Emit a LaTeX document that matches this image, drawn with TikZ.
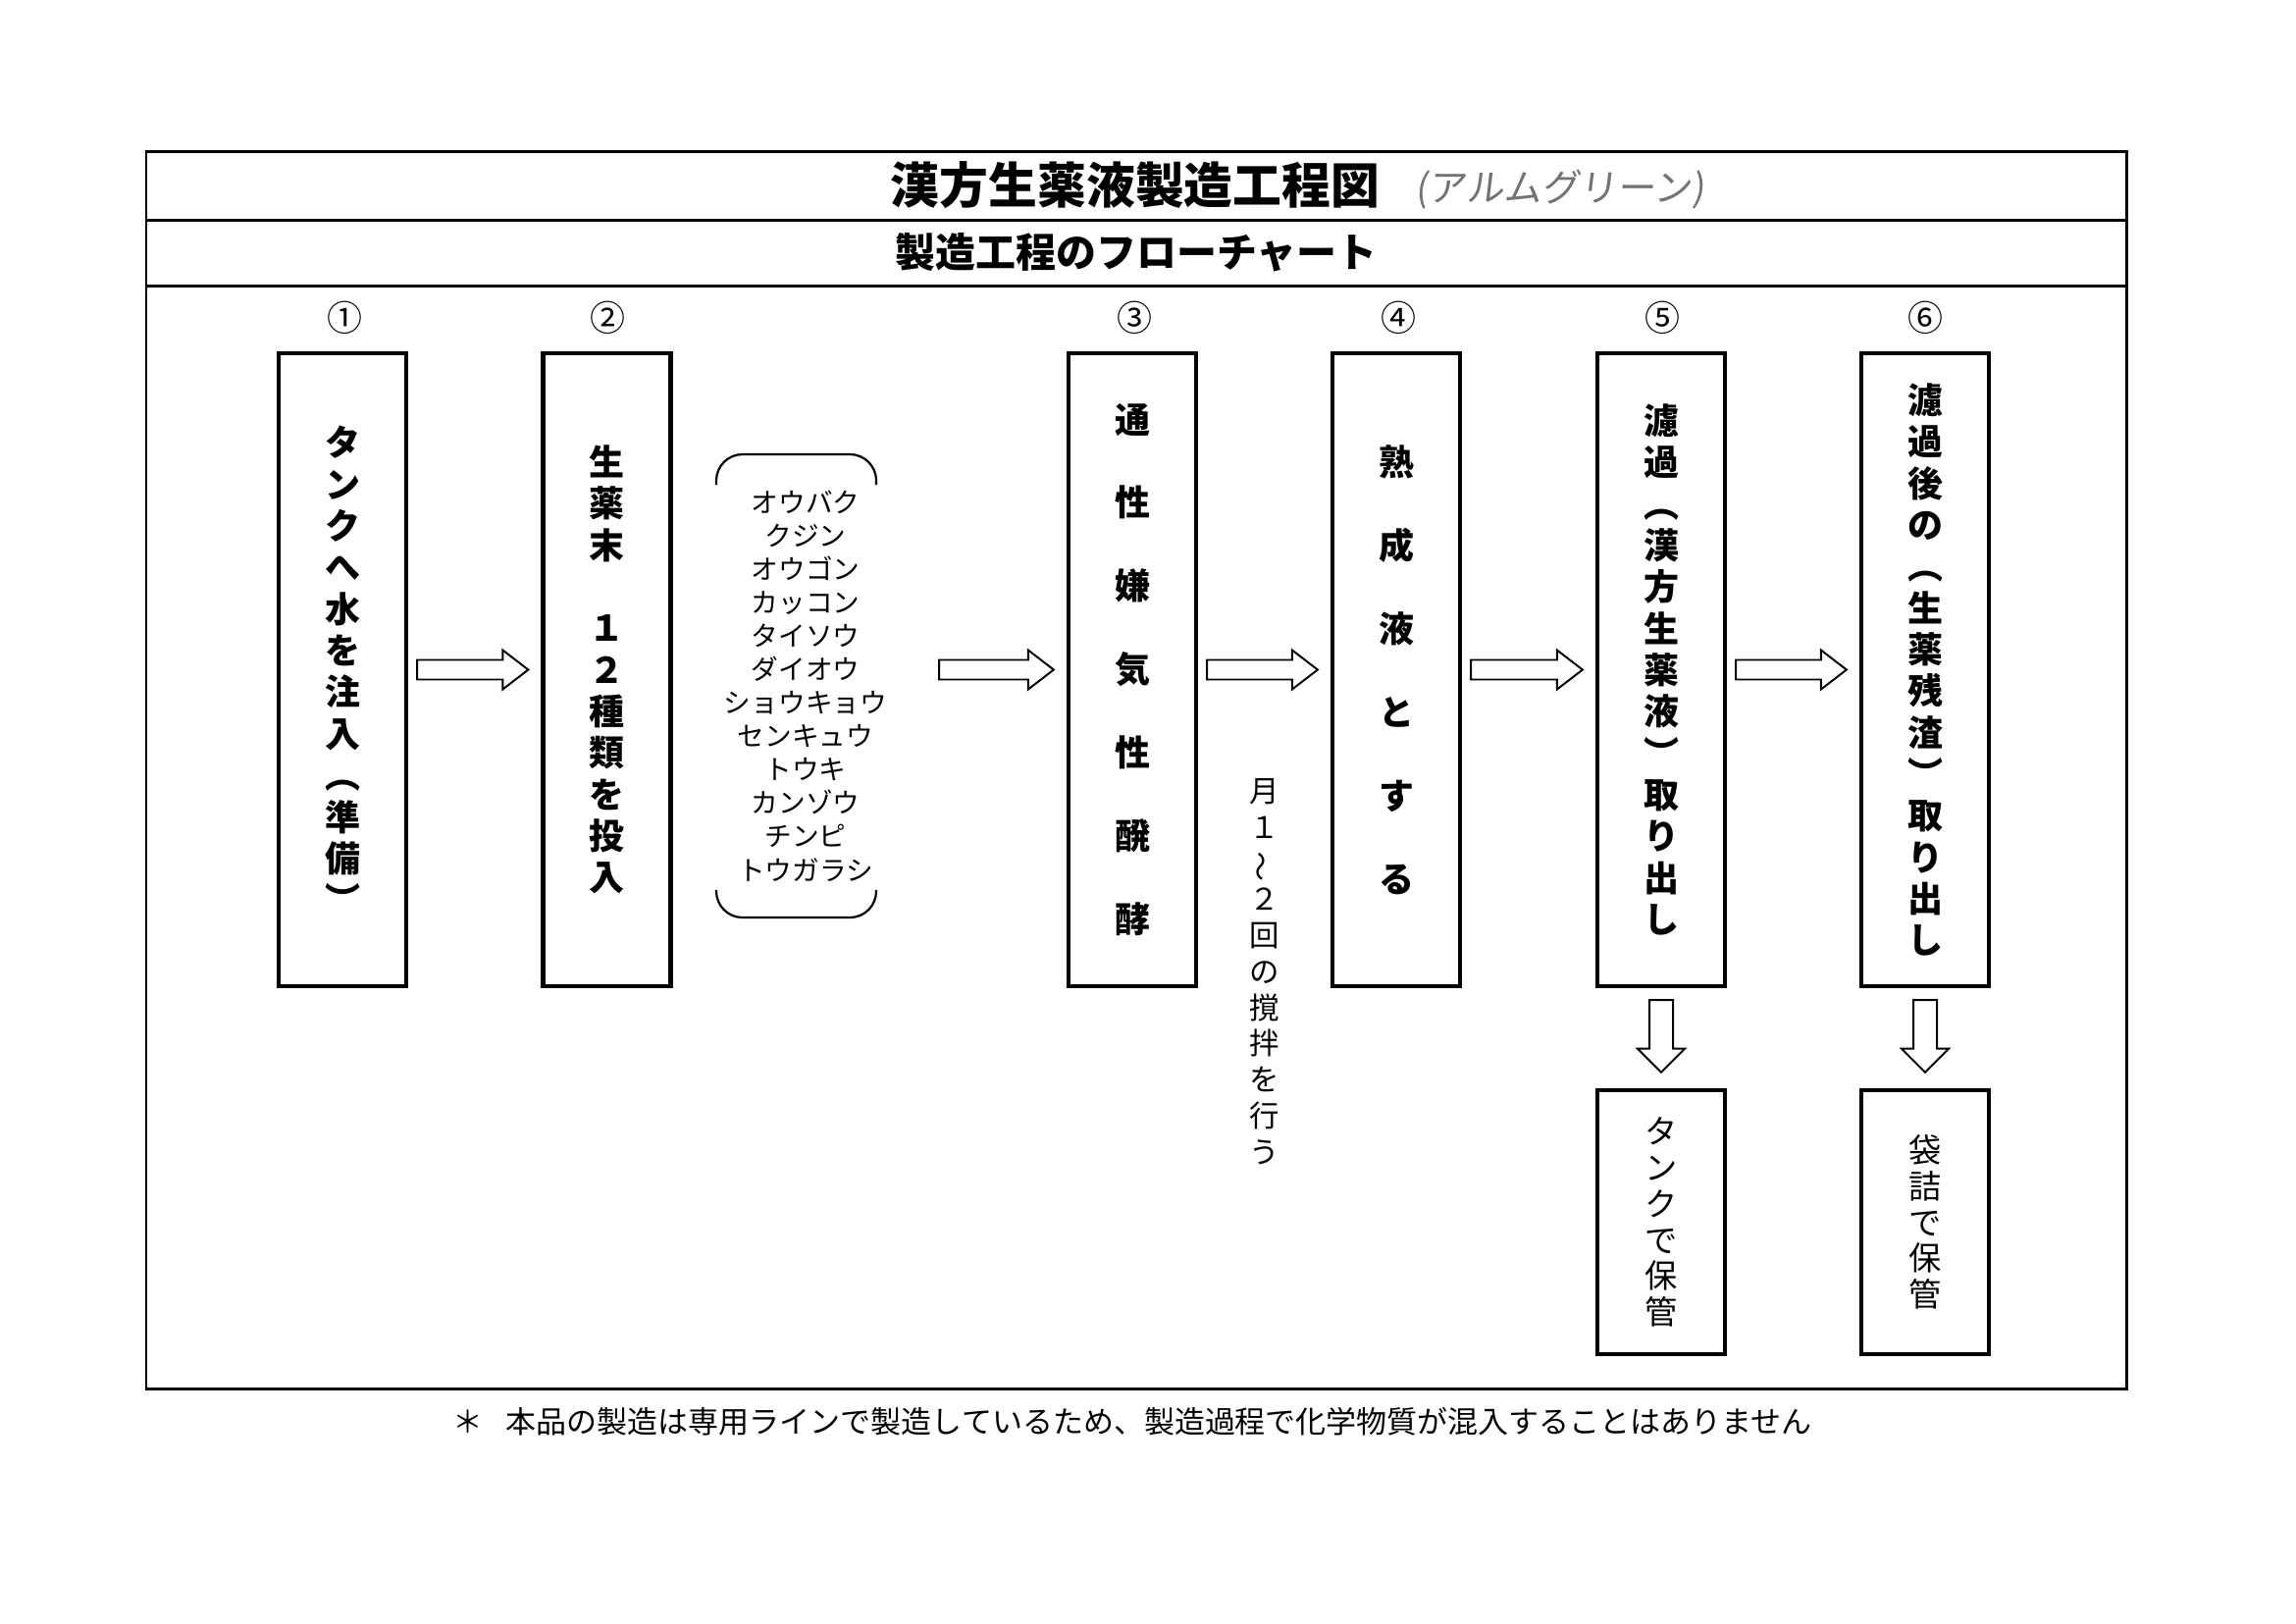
\documentclass[tikz,border=0pt]{standalone}
\usepackage{fontspec}
\setmainfont{Noto Sans CJK JP}
\newfontfamily\handfont{Noto Sans CJK JP}[FakeSlant=0.12]
\usetikzlibrary{calc}

\begin{document}
\begin{tikzpicture}[x=0.127mm, y=-0.127mm,
  frameline/.style={line width=0.38mm},
  procbox/.style={draw, line width=0.55mm, minimum width=16.5mm, minimum height=81.9mm, inner sep=0pt, align=center},
  storebox/.style={procbox, minimum height=34.2mm},
  vtext/.style={font=\fontsize{13}{15.3}\selectfont\bfseries},
  vwide/.style={font=\fontsize{13}{30.7}\selectfont\bfseries},
  vsmall/.style={font=\fontsize{12}{13.3}\selectfont},
  stepno/.style={font=\fontsize{13}{13}\selectfont},
  bracket/.style={line width=0.28mm, rounded corners=3.4mm},
  rarrow/.style={draw, fill=white, line width=0.25mm, to path={
    ($(\tikztostart)+(9,-10)$) -- ($(\tikztotarget)+(-39,-10)$) -- ($(\tikztotarget)+(-39,-20)$)
    -- ($(\tikztotarget)+(-13,0)$) -- ($(\tikztotarget)+(-39,20)$) -- ($(\tikztotarget)+(-39,10)$)
    -- ($(\tikztostart)+(9,10)$) -- cycle}},
  darrow/.style={draw, fill=white, line width=0.25mm, to path={
    ($(\tikztostart)+(-12,12)$) -- ($(\tikztotarget)+(-12,-40)$) -- ($(\tikztotarget)+(-24,-40)$)
    -- ($(\tikztotarget)+(0,-16)$) -- ($(\tikztotarget)+(24,-40)$) -- ($(\tikztotarget)+(12,-40)$)
    -- ($(\tikztostart)+(12,12)$) -- cycle}}]
\useasboundingbox (0,0) rectangle (2340,1654);
\draw[frameline] (149,154) rectangle (2167,1415);
\draw[frameline] (149,224) -- (2167,224);
\draw[frameline] (149,291) -- (2167,291);
\node (title) at (1157,189) {\fontsize{18}{18}\selectfont\bfseries 漢方生薬液製造工程図};
\node[text=black!55] (hand) at (1590,193) {\handfont\fontsize{14}{14}\selectfont (アルムグリーン)};
\node (subtitle) at (1158,257) {\fontsize{14.8}{14.8}\selectfont\bfseries 製造工程のフローチャート};
\node[stepno] (n1) at (351,324) {①};
\node[stepno] (n2) at (619,324) {②};
\node[stepno] (n3) at (1156,324) {③};
\node[stepno] (n4) at (1425,324) {④};
\node[stepno] (n5) at (1694,324) {⑤};
\node[stepno] (n6) at (1962,324) {⑥};
\node[procbox, vtext] (b1) at (349,682.5) {タ\\ン\\ク\\へ\\水\\を\\注\\入\\︵\\準\\備\\︶};
\node[procbox, vtext] (b2) at (618.5,682.5) {生\\薬\\末\\　\\１\\２\\種\\類\\を\\投\\入};
\node[procbox, vwide] (b3) at (1154,682.5) {通\\性\\嫌\\気\\性\\醗\\酵};
\node[procbox, vwide] (b4) at (1423,682.5) {熟\\成\\液\\と\\す\\る};
\node[procbox, vtext] (b5) at (1693,682.5) {濾\\過\\︵\\漢\\方\\生\\薬\\液\\︶\\取\\り\\出\\し};
\node[procbox, vtext] (b6) at (1962,682.5) {濾\\過\\後\\の\\︵\\生\\薬\\残\\渣\\︶\\取\\り\\出\\し};
\node[storebox, vsmall] (s5) at (1693,1245.5) {タ\\ン\\ク\\で\\保\\管};
\node[storebox, vsmall] (s6) at (1962,1245.5) {袋\\詰\\で\\保\\管};
\node[align=center, font=\fontsize{10}{12.3}\selectfont] (herbs) at (821,699)
  {オウバク\\クジン\\オウゴン\\カッコン\\タイソウ\\ダイオウ\\ショウキョウ\\センキュウ\\トウキ\\カンゾウ\\チンピ\\トウガラシ};
\draw[bracket] (730,494) -- (730,463) -- (893,463) -- (893,494);
\draw[bracket] (730,907) -- (730,935) -- (893,935) -- (893,907);
\node[align=center, font=\fontsize{11}{13.3}\selectfont] (stir) at (1289,990)
  {月\\１\\\rotatebox[origin=c]{90}{～}\\２\\回\\の\\撹\\拌\\を\\行\\う};
\coordinate (a2) at (948,682.5);
\draw[rarrow] (b1.east) to (b2.west);
\draw[rarrow] (a2) to (b3.west);
\draw[rarrow] (b3.east) to (b4.west);
\draw[rarrow] (b4.east) to (b5.west);
\draw[rarrow] (b5.east) to (b6.west);
\draw[darrow] (b5.south) to (s5.north);
\draw[darrow] (b6.south) to (s6.north);
\node[anchor=west, font=\fontsize{11.2}{11.2}\selectfont] (foot) at (452,1449)
  {＊\hspace{0.75em}本品の製造は専用ラインで製造しているため、製造過程で化学物質が混入することはありません};
\end{tikzpicture}
\end{document}
